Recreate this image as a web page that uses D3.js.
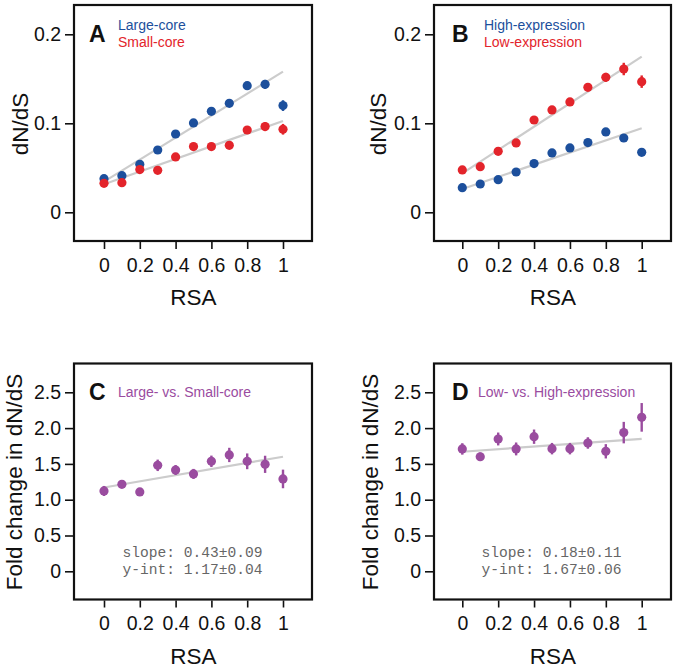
<!DOCTYPE html>
<html><head><meta charset="utf-8">
<script src="https://cdn.jsdelivr.net/npm/d3@7"></script>
<style>body{margin:0;background:#fff}svg{display:block}</style>
</head><body>
<svg id="chart" width="676" height="668"></svg>
<script>
// ---- data ----
const rsa = [0, 0.1, 0.2, 0.3, 0.4, 0.5, 0.6, 0.7, 0.8, 0.9, 1.0];
const xTicks = [0, 0.2, 0.4, 0.6, 0.8, 1];
const xTickLabels = ["0", "0.2", "0.4", "0.6", "0.8", "1"];
const yTicksAB = [0, 0.1, 0.2];
const yTickLabelsAB = ["0", "0.1", "0.2"];
const yTicksCD = [0, 0.5, 1.0, 1.5, 2.0, 2.5];
const yTickLabelsCD = ["0", "0.5", "1.0", "1.5", "2.0", "2.5"];

const largeCore    = [0.0378, 0.0412, 0.0539, 0.0700, 0.0880, 0.1004, 0.1135, 0.1225, 0.1423, 0.1438, 0.1199];
const largeCoreErr = [0.002, 0.002, 0.002, 0.002, 0.002, 0.002, 0.002, 0.002, 0.004, 0.005, 0.006];
const smallCore    = [0.0326, 0.0333, 0.0480, 0.0472, 0.0622, 0.0738, 0.0738, 0.0753, 0.0925, 0.0963, 0.0933];
const smallCoreErr = [0.002, 0.002, 0.002, 0.002, 0.002, 0.002, 0.002, 0.002, 0.004, 0.005, 0.006];
const fitLargeCore = [0.0345, 0.158];
const fitSmallCore = [0.0315, 0.1026];

const highExpr     = [0.0277, 0.0318, 0.0367, 0.0453, 0.0547, 0.0667, 0.0723, 0.0783, 0.0903, 0.0835, 0.0674];
const highExprErr  = [0.001, 0.001, 0.001, 0.001, 0.001, 0.002, 0.002, 0.002, 0.003, 0.003, 0.004];
const lowExpr      = [0.0476, 0.0513, 0.0685, 0.0779, 0.1037, 0.1150, 0.1240, 0.1404, 0.1517, 0.1610, 0.1468];
const lowExprErr   = [0.002, 0.002, 0.002, 0.002, 0.003, 0.003, 0.003, 0.004, 0.005, 0.007, 0.007];
const fitHighExpr  = [0.0262, 0.0944];
const fitLowExpr   = [0.0438, 0.175];

const foldCore     = [1.122, 1.215, 1.108, 1.480, 1.415, 1.360, 1.536, 1.625, 1.536, 1.494, 1.290];
const foldCoreErr  = [0.07, 0.05, 0.05, 0.08, 0.07, 0.07, 0.08, 0.10, 0.11, 0.12, 0.13];
const fitFoldCore  = [1.17, 1.60];
const foldExpr     = [1.709, 1.600, 1.848, 1.709, 1.880, 1.713, 1.713, 1.792, 1.676, 1.937, 2.150];
const foldExprErr  = [0.08, 0.06, 0.09, 0.09, 0.10, 0.08, 0.08, 0.08, 0.10, 0.15, 0.20];
const fitFoldExpr  = [1.67, 1.85];

// ---- styles / layout ----
const BLUE = "#1c4f9c", RED = "#e3242b", PURPLE = "#9a4c9f", FIT = "#cccccc";
const FONT = "'Liberation Sans', Arial, Helvetica, sans-serif";
const MONO = "'Liberation Mono', 'Courier New', monospace";

const panels = [
  { letter: "A", frame: [74, 5, 312, 241], xr: [104, 283], yr: [212.3, 34.3], yd: [0, 0.2],
    yt: yTicksAB, ytl: yTickLabelsAB, ylab: "dN/dS", ylabX: 28, ylabY: 124,
    letterX: 89, letterY: 42, legendX: 118, legendY: [30, 46.5],
    series: [
      { name: "Large-core", color: BLUE, v: largeCore, e: largeCoreErr, fit: fitLargeCore },
      { name: "Small-core", color: RED, v: smallCore, e: smallCoreErr, fit: fitSmallCore }
    ] },
  { letter: "B", frame: [434, 5, 671, 241], xr: [462.3, 641.7], yr: [212.3, 34.3], yd: [0, 0.2],
    yt: yTicksAB, ytl: yTickLabelsAB, ylab: "dN/dS", ylabX: 386, ylabY: 124,
    letterX: 452, letterY: 42, legendX: 484, legendY: [30, 47],
    series: [
      { name: "High-expression", color: BLUE, v: highExpr, e: highExprErr, fit: fitHighExpr },
      { name: "Low-expression", color: RED, v: lowExpr, e: lowExprErr, fit: fitLowExpr }
    ] },
  { letter: "C", frame: [74, 363.5, 312, 599.5], xr: [104, 283], yr: [571.3, 392.3], yd: [0, 2.5],
    yt: yTicksCD, ytl: yTickLabelsCD, ylab: "Fold change in dN/dS", ylabX: 22, ylabY: 482,
    letterX: 89, letterY: 400, legendX: 118, legendY: [397],
    annot: ["slope: 0.43\u00b10.09", "y-int: 1.17\u00b10.04"], annotX: 122.5, annotY: [556.5, 574],
    series: [
      { name: "Large- vs. Small-core", color: PURPLE, v: foldCore, e: foldCoreErr, fit: fitFoldCore }
    ] },
  { letter: "D", frame: [434, 363.5, 671, 599.5], xr: [462.3, 641.7], yr: [571.3, 392.3], yd: [0, 2.5],
    yt: yTicksCD, ytl: yTickLabelsCD, ylab: "Fold change in dN/dS", ylabX: 378, ylabY: 482,
    letterX: 452, letterY: 400, legendX: 478, legendY: [397],
    annot: ["slope: 0.18\u00b10.11", "y-int: 1.67\u00b10.06"], annotX: 481.5, annotY: [556.5, 574],
    series: [
      { name: "Low- vs. High-expression", color: PURPLE, v: foldExpr, e: foldExprErr, fit: fitFoldExpr }
    ] }
];

const svg = d3.select("#chart");

panels.forEach(p => {
  const g = svg.append("g");
  const [x0, y0, x1, y1] = p.frame;
  const x = d3.scaleLinear().domain([0, 1]).range(p.xr);
  const y = d3.scaleLinear().domain(p.yd).range(p.yr);

  // fit lines
  p.series.forEach(s => {
    g.append("line")
      .attr("x1", x(0)).attr("x2", x(1))
      .attr("y1", y(s.fit[0])).attr("y2", y(s.fit[1]))
      .attr("stroke", FIT).attr("stroke-width", 2.2);
  });

  // error bars and points
  p.series.forEach(s => {
    const pts = rsa.map((r, i) => ({ r, v: s.v[i], e: s.e[i] }));
    g.selectAll(null).data(pts).enter().append("line")
      .attr("x1", d => x(d.r)).attr("x2", d => x(d.r))
      .attr("y1", d => y(d.v - d.e)).attr("y2", d => y(d.v + d.e))
      .attr("stroke", s.color).attr("stroke-width", 2.4);
    g.selectAll(null).data(pts).enter().append("circle")
      .attr("cx", d => x(d.r)).attr("cy", d => y(d.v))
      .attr("r", 4.6).attr("fill", s.color);
  });

  // frame
  g.append("rect").attr("x", x0).attr("y", y0)
    .attr("width", x1 - x0).attr("height", y1 - y0)
    .attr("fill", "none").attr("stroke", "#111").attr("stroke-width", 2.2);

  // x axis
  const xAxis = d3.axisBottom(x).tickValues(xTicks)
    .tickFormat((d, i) => xTickLabels[i]).tickSize(7).tickPadding(9);
  const xg = g.append("g").attr("transform", `translate(0,${y1 + 1})`).call(xAxis);
  xg.select(".domain").remove();
  xg.selectAll(".tick line").attr("stroke", "#111").attr("stroke-width", 1.6);
  xg.selectAll(".tick text").attr("font-family", FONT).attr("font-size", 19.5).attr("fill", "#111");

  // y axis
  const yAxis = d3.axisLeft(y).tickValues(p.yt)
    .tickFormat((d, i) => p.ytl[i]).tickSize(8).tickPadding(4);
  const yg = g.append("g").attr("transform", `translate(${x0 - 1},0)`).call(yAxis);
  yg.select(".domain").remove();
  yg.selectAll(".tick line").attr("stroke", "#111").attr("stroke-width", 1.6);
  yg.selectAll(".tick text").attr("font-family", FONT).attr("font-size", 19.5).attr("fill", "#111");

  // axis titles
  g.append("text").attr("x", (x0 + x1) / 2 + 0.5).attr("y", y1 + 64)
    .attr("text-anchor", "middle").attr("font-family", FONT).attr("font-size", 22.5)
    .attr("fill", "#111").text("RSA");
  g.append("text")
    .attr("transform", `translate(${p.ylabX},${p.ylabY}) rotate(-90)`)
    .attr("text-anchor", "middle").attr("font-family", FONT).attr("font-size", 22.5)
    .attr("fill", "#111").text(p.ylab);

  // panel letter
  g.append("text").attr("x", p.letterX).attr("y", p.letterY)
    .attr("font-family", FONT).attr("font-weight", "bold").attr("font-size", 23)
    .attr("fill", "#111").text(p.letter);

  // legend
  p.series.forEach((s, i) => {
    g.append("text").attr("x", p.legendX).attr("y", p.legendY[i])
      .attr("font-family", FONT).attr("font-size", 14)
      .attr("fill", s.color).text(s.name);
  });

  // annotations
  if (p.annot) {
    p.annot.forEach((t, i) => {
      g.append("text").attr("x", p.annotX).attr("y", p.annotY[i])
        .attr("font-family", MONO).attr("font-size", 14.6)
        .attr("fill", "#666").text(t);
    });
  }
});
</script>
</body></html>
